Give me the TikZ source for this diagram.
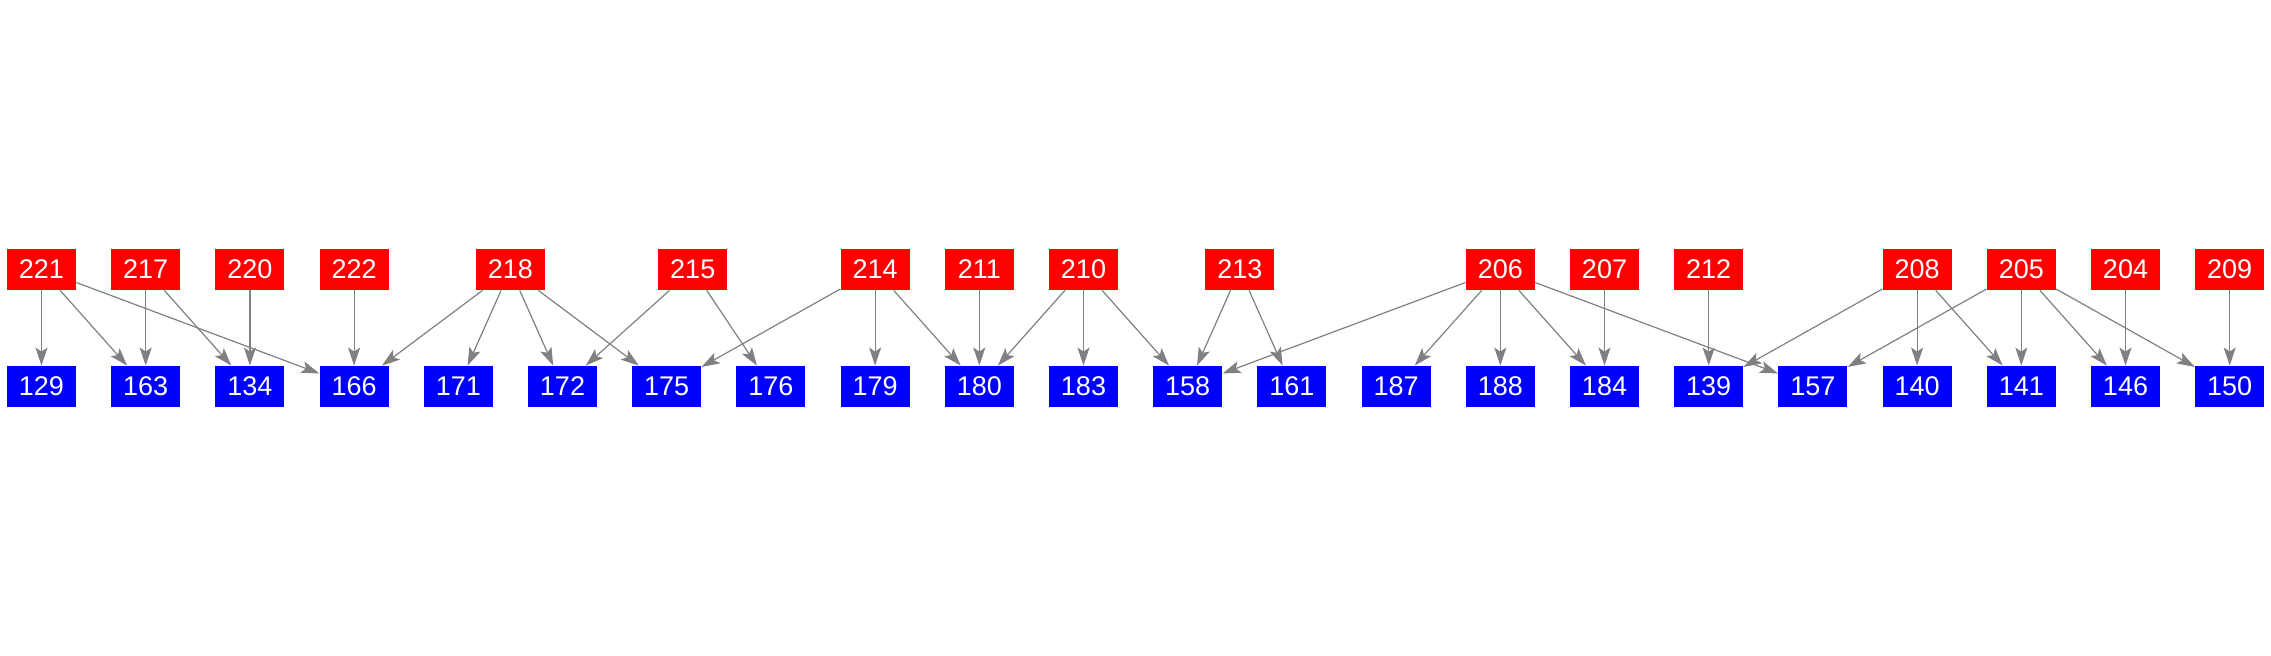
\documentclass[tikz,border=0pt]{standalone}
\usepackage{fontspec}
\setmainfont{Liberation Sans}
\usetikzlibrary{arrows.meta}

\begin{document}
\begin{tikzpicture}[x=52.1pt, y=58.5pt,
    redbox/.style={fill=red, text=white, minimum width=34.5pt, minimum height=20.5pt,
        inner sep=0pt, font=\fontsize{13.5}{13.5}\selectfont},
    bluebox/.style={redbox, fill=blue},
    link/.style={draw, color=gray, line width=0.6pt, -{Stealth[length=9pt,width=6pt,inset=2pt]}}]
    \useasboundingbox (-20.75pt,-134.75pt) rectangle (1114.75pt,193.25pt);

    % upper row
    \node[redbox] (n221) at (0,1) {221};
    \node[redbox] (n217) at (1,1) {217};
    \node[redbox] (n220) at (2,1) {220};
    \node[redbox] (n222) at (3,1) {222};
    \node[redbox] (n218) at (4.5,1) {218};
    \node[redbox] (n215) at (6.25,1) {215};
    \node[redbox] (n214) at (8,1) {214};
    \node[redbox] (n211) at (9,1) {211};
    \node[redbox] (n210) at (10,1) {210};
    \node[redbox] (n213) at (11.5,1) {213};
    \node[redbox] (n206) at (14,1) {206};
    \node[redbox] (n207) at (15,1) {207};
    \node[redbox] (n212) at (16,1) {212};
    \node[redbox] (n208) at (18,1) {208};
    \node[redbox] (n205) at (19,1) {205};
    \node[redbox] (n204) at (20,1) {204};
    \node[redbox] (n209) at (21,1) {209};

    % lower row
    \node[bluebox] (n129) at (0,0) {129};
    \node[bluebox] (n163) at (1,0) {163};
    \node[bluebox] (n134) at (2,0) {134};
    \node[bluebox] (n166) at (3,0) {166};
    \node[bluebox] (n171) at (4,0) {171};
    \node[bluebox] (n172) at (5,0) {172};
    \node[bluebox] (n175) at (6,0) {175};
    \node[bluebox] (n176) at (7,0) {176};
    \node[bluebox] (n179) at (8,0) {179};
    \node[bluebox] (n180) at (9,0) {180};
    \node[bluebox] (n183) at (10,0) {183};
    \node[bluebox] (n158) at (11,0) {158};
    \node[bluebox] (n161) at (12,0) {161};
    \node[bluebox] (n187) at (13,0) {187};
    \node[bluebox] (n188) at (14,0) {188};
    \node[bluebox] (n184) at (15,0) {184};
    \node[bluebox] (n139) at (16,0) {139};
    \node[bluebox] (n157) at (17,0) {157};
    \node[bluebox] (n140) at (18,0) {140};
    \node[bluebox] (n141) at (19,0) {141};
    \node[bluebox] (n146) at (20,0) {146};
    \node[bluebox] (n150) at (21,0) {150};

    % links
    \path[link] (n221) edge (n129) edge (n163) edge (n166);
    \path[link] (n217) edge (n163) edge (n134);
    \path[link] (n220) edge (n134);
    \path[link] (n222) edge (n166);
    \path[link] (n218) edge (n166) edge (n171) edge (n172) edge (n175);
    \path[link] (n215) edge (n172) edge (n176);
    \path[link] (n214) edge (n175) edge (n179) edge (n180);
    \path[link] (n211) edge (n180);
    \path[link] (n210) edge (n180) edge (n183) edge (n158);
    \path[link] (n213) edge (n158) edge (n161);
    \path[link] (n206) edge (n158) edge (n187) edge (n188) edge (n184) edge (n157);
    \path[link] (n207) edge (n184);
    \path[link] (n212) edge (n139);
    \path[link] (n208) edge (n139) edge (n140) edge (n141);
    \path[link] (n205) edge (n157) edge (n141) edge (n146) edge (n150);
    \path[link] (n204) edge (n146);
    \path[link] (n209) edge (n150);
\end{tikzpicture}
\end{document}
